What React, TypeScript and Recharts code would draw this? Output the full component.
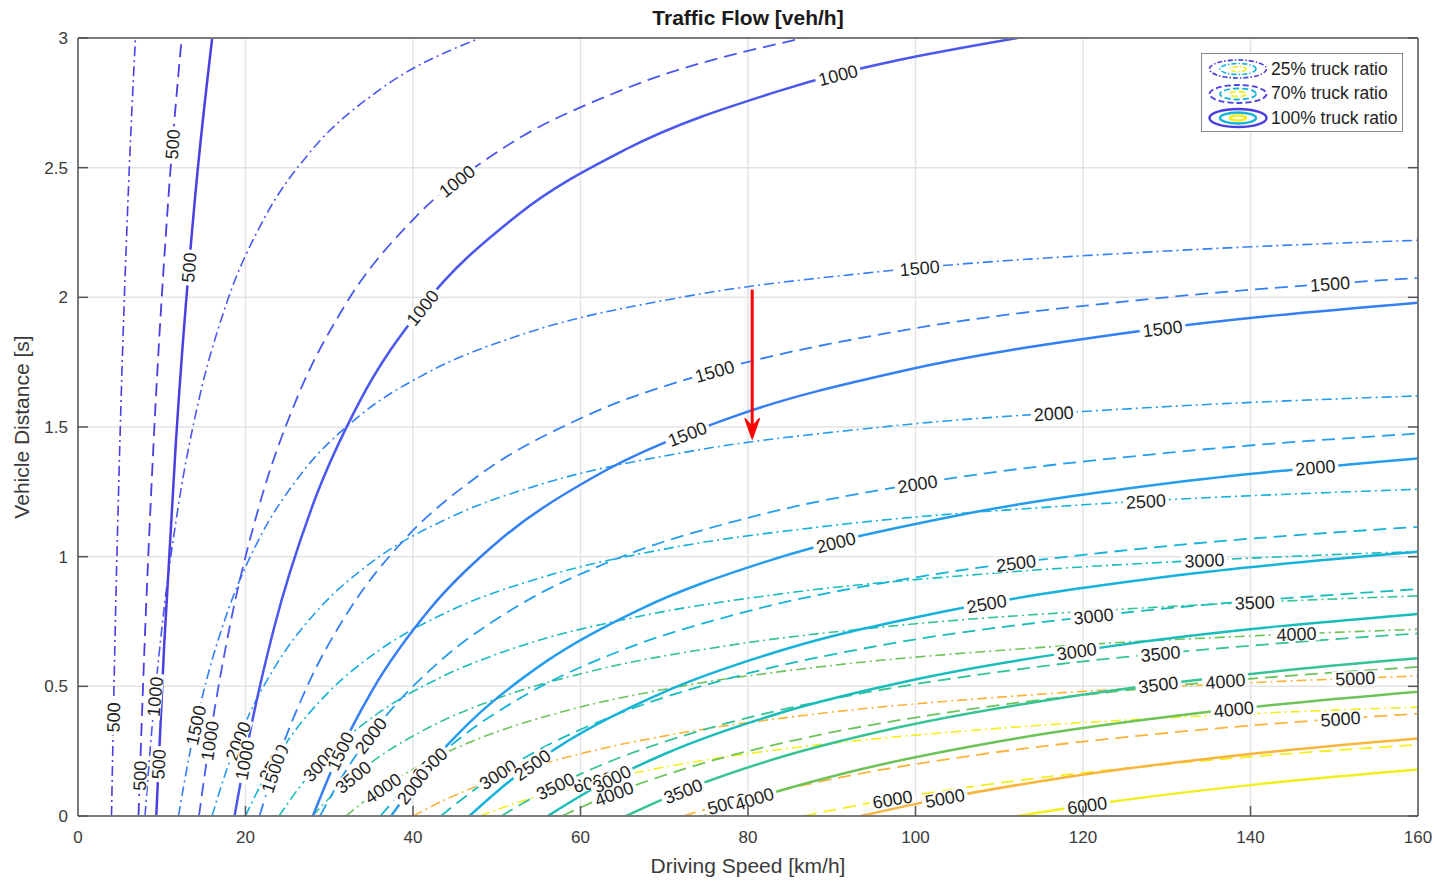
import React from 'react';
import { ComposedChart, Line, XAxis, YAxis, CartesianGrid, ReferenceLine } from 'recharts';

const FONT = '"Liberation Sans", Arial, Helvetica, sans-serif';

// flow levels drawn as contours [veh/h]
const LEVELS = [500, 1000, 1500, 2000, 2500, 3000, 3500, 4000, 5000, 6000];
const LEVEL_COLORS = [
  '#4a3fe0', '#4a58ef', '#357ff5', '#249ded', '#15b2d9',
  '#18bcbb', '#36c397', '#6dc35a', '#f9b43c', '#f3ee1e',
];

const SPEED_TICKS = [0, 20, 40, 60, 80, 100, 120, 140, 160];
const DIST_TICKS = [0, 0.5, 1, 1.5, 2, 2.5, 3];

// [driving speed km/h, vehicle distance s] along each contour, one per level
const TRUCK_25 = [
  [[4, 0], [4.4, 0.655], [5, 1.44], [6, 2.4], [6.857, 3]],
  [[8, 0], [8.8, 0.327], [10, 0.72], [12, 1.2], [14.4, 1.6], [17.6, 1.964], [22.4, 2.314], [28, 2.571], [36, 2.8], [48, 3]],
  [[12, 0], [13.2, 0.218], [15, 0.48], [18, 0.8], [21.6, 1.067], [26.4, 1.309], [33.6, 1.543], [42, 1.714], [54, 1.867], [72, 2.0], [96, 2.1], [132, 2.182], [160, 2.22]],
  [[16, 0], [17.6, 0.164], [20, 0.36], [24, 0.6], [28.8, 0.8], [35.2, 0.982], [44.8, 1.157], [56, 1.286], [72, 1.4], [96, 1.5], [128, 1.575], [160, 1.62]],
  [[20, 0], [22, 0.131], [25, 0.288], [30, 0.48], [36, 0.64], [44, 0.785], [56, 0.926], [70, 1.029], [90, 1.12], [120, 1.2], [160, 1.26]],
  [[24, 0], [26.4, 0.109], [30, 0.24], [36, 0.4], [43.2, 0.533], [52.8, 0.655], [67.2, 0.771], [84, 0.857], [108, 0.933], [144, 1.0], [160, 1.02]],
  [[28, 0], [30.8, 0.094], [35, 0.206], [42, 0.343], [50.4, 0.457], [61.6, 0.561], [78.4, 0.661], [98, 0.735], [126, 0.8], [160, 0.849]],
  [[32, 0], [35.2, 0.082], [40, 0.18], [48, 0.3], [57.6, 0.4], [70.4, 0.491], [89.6, 0.579], [112, 0.643], [144, 0.7], [160, 0.72]],
  [[40, 0], [44, 0.065], [50, 0.144], [60, 0.24], [72, 0.32], [88, 0.393], [112, 0.463], [140, 0.514], [160, 0.54]],
  [[48, 0], [52.8, 0.055], [60, 0.12], [72, 0.2], [86.4, 0.267], [105.6, 0.327], [134.4, 0.386], [160, 0.42]],
];

const TRUCK_70 = [
  [[7.222, 0], [7.944, 0.655], [9.028, 1.44], [10.833, 2.4], [12.381, 3]],
  [[14.444, 0], [15.889, 0.327], [18.056, 0.72], [21.667, 1.2], [26, 1.6], [31.778, 1.964], [40.444, 2.314], [50.556, 2.571], [65, 2.8], [86.667, 3]],
  [[21.667, 0], [23.833, 0.218], [27.083, 0.48], [32.5, 0.8], [39, 1.067], [47.667, 1.309], [60.667, 1.543], [75.833, 1.714], [97.5, 1.867], [130, 2.0], [160, 2.075]],
  [[28.889, 0], [31.778, 0.164], [36.111, 0.36], [43.333, 0.6], [52, 0.8], [63.556, 0.982], [80.889, 1.157], [101.11, 1.286], [130, 1.4], [160, 1.475]],
  [[36.111, 0], [39.722, 0.131], [45.139, 0.288], [54.167, 0.48], [65, 0.64], [79.444, 0.785], [101.11, 0.926], [126.39, 1.029], [160, 1.115]],
  [[43.333, 0], [47.667, 0.109], [54.167, 0.24], [65, 0.4], [78, 0.533], [95.333, 0.655], [121.33, 0.771], [160, 0.875]],
  [[50.556, 0], [55.611, 0.094], [63.194, 0.206], [75.833, 0.343], [91, 0.457], [111.22, 0.561], [141.56, 0.661], [160, 0.704]],
  [[57.778, 0], [63.556, 0.082], [72.222, 0.18], [86.667, 0.3], [104, 0.4], [127.11, 0.491], [160, 0.575]],
  [[72.222, 0], [79.444, 0.065], [90.278, 0.144], [108.33, 0.24], [130, 0.32], [160, 0.395]],
  [[86.667, 0], [95.333, 0.055], [108.33, 0.12], [130, 0.2], [160, 0.275]],
];

const TRUCK_100 = [
  [[9.347, 0], [10.282, 0.655], [11.684, 1.44], [14.021, 2.4], [16.024, 3]],
  [[18.694, 0], [20.564, 0.327], [23.368, 0.72], [28.042, 1.2], [33.65, 1.6], [41.128, 1.964], [52.344, 2.314], [65.43, 2.571], [84.125, 2.8], [112.17, 3]],
  [[28.042, 0], [30.846, 0.218], [35.052, 0.48], [42.063, 0.8], [50.475, 1.067], [61.692, 1.309], [78.517, 1.543], [98.146, 1.714], [126.19, 1.867], [160, 1.979]],
  [[37.389, 0], [41.128, 0.164], [46.736, 0.36], [56.083, 0.6], [67.3, 0.8], [82.256, 0.982], [104.69, 1.157], [130.86, 1.286], [160, 1.379]],
  [[46.736, 0], [51.41, 0.131], [58.42, 0.288], [70.104, 0.48], [84.125, 0.64], [102.82, 0.785], [130.86, 0.926], [160, 1.019]],
  [[56.083, 0], [61.692, 0.109], [70.104, 0.24], [84.125, 0.4], [100.95, 0.533], [123.38, 0.655], [160, 0.779]],
  [[65.431, 0], [71.974, 0.094], [81.789, 0.206], [98.146, 0.343], [117.78, 0.457], [143.95, 0.561], [160, 0.608]],
  [[74.778, 0], [82.256, 0.082], [93.472, 0.18], [112.17, 0.3], [134.6, 0.4], [160, 0.479]],
  [[93.472, 0], [102.82, 0.065], [116.84, 0.144], [140.21, 0.24], [160, 0.299]],
  [[112.17, 0], [123.38, 0.055], [140.21, 0.12], [160, 0.179]],
];

// inline contour labels: [level index, speed1, dist1, speed2, dist2] (two points on the curve)
const LABELS_25 = [
  [0, 4.174, 0.3, 4.273, 0.46], [1, 9.0, 0.4, 9.351, 0.52], [2, 13.649, 0.29, 14.472, 0.41],
  [3, 18.344, 0.23, 19.862, 0.35], [4, 22.326, 0.15, 24.407, 0.26], [5, 27.429, 0.15, 30.316, 0.25],
  [6, 31.352, 0.11, 34.343, 0.19], [7, 34.909, 0.075, 37.895, 0.14], [9, 59, 0.112, 64, 0.15],
  [2, 98, 2.106, 103, 2.12], [3, 114, 1.547, 119, 1.558], [4, 125, 1.2096, 130, 1.2185],
  [5, 132, 0.9818, 137, 0.9898], [6, 138, 0.8199, 143, 0.8272], [7, 143, 0.6986, 148, 0.7054],
  [8, 150, 0.528, 155, 0.5342],
];

const LABELS_70 = [
  [0, 11.064, 2.5, 11.504, 2.68], [0, 7.314, 0.09, 7.45, 0.22], [1, 43, 2.391, 47.5, 2.505],
  [1, 15.43, 0.23, 16.0, 0.35], [2, 147, 2.0463, 152, 2.0579], [2, 73, 1.6877, 79, 1.7418],
  [2, 22.707, 0.11, 23.853, 0.22], [3, 97.5, 1.2667, 103, 1.2951], [3, 33.548, 0.25, 36.364, 0.37],
  [4, 109.5, 0.9651, 114.5, 0.9859], [4, 40.31, 0.15, 43.697, 0.25], [5, 118.5, 0.7612, 124, 0.7806],
  [5, 47.706, 0.11, 52.525, 0.21], [6, 126.5, 0.6175, 132, 0.6347], [6, 55, 0.0831, 59, 0.1472],
  [7, 134, 0.5119, 140, 0.5286], [7, 61.5, 0.0545, 66.5, 0.118], [8, 148, 0.3686, 153.5, 0.3812],
  [8, 75, 0.0267, 80, 0.07], [9, 94.5, 0.0497, 100, 0.08],
];

const LABELS_100 = [
  [0, 13.017, 2.03, 13.46, 2.2], [0, 9.519, 0.13, 9.711, 0.27], [1, 39.128, 1.88, 43.141, 2.04],
  [1, 87, 2.8264, 94.5, 2.8878], [1, 19.507, 0.15, 20.271, 0.28], [2, 126, 1.8659, 133, 1.894],
  [2, 69.5, 1.4317, 76, 1.5145], [2, 30.452, 0.19, 32.201, 0.31], [3, 144.5, 1.3343, 151, 1.3543],
  [3, 87, 1.0264, 94, 1.084], [3, 38.678, 0.06, 41.288, 0.17], [4, 105.5, 0.8021, 111.5, 0.8364],
  [4, 52, 0.1458, 56.5, 0.2488], [5, 116, 0.6198, 122.5, 0.6506], [5, 61.5, 0.1057, 66, 0.1803],
  [6, 126, 0.4945, 132, 0.5188], [6, 69.5, 0.0603, 75, 0.1313], [7, 135, 0.4015, 141, 0.4227],
  [7, 78.5, 0.0427, 83, 0.0892], [8, 100.5, 0.0503, 106.5, 0.0881], [9, 117.5, 0.0272, 123.5, 0.0551],
];

// red arrow: from 1500 (25%) down to 2000 (25%) at 80 km/h
const ARROW = [[80.5, 2.03], [80.5, 1.455]];

const SERIES = [
  { name: '25% truck ratio', curves: TRUCK_25, labels: LABELS_25, dash: '10 4 2 4', iconDash: '5 2 1.5 2', width: 1.6 },
  { name: '70% truck ratio', curves: TRUCK_70, labels: LABELS_70, dash: '13 7', iconDash: '6 3', width: 1.8 },
  { name: '100% truck ratio', curves: TRUCK_100, labels: LABELS_100, dash: undefined, iconDash: undefined, width: 2.5 },
];

const LABEL_SIZE = 18;

const ContourLabel = (props: any) => {
  const { x1, y1, x2, y2, text } = props;
  if (x1 == null) return null;
  const cx = (x1 + x2) / 2;
  const cy = (y1 + y2) / 2;
  let a = (Math.atan2(y2 - y1, x2 - x1) * 180) / Math.PI;
  if (a > 90) a -= 180;
  if (a < -90) a += 180;
  const w = text.length * LABEL_SIZE * 0.556 + 6;
  return (
    <g transform={`translate(${cx},${cy}) rotate(${a})`}>
      <rect x={-w / 2} y={-LABEL_SIZE * 0.4} width={w} height={LABEL_SIZE * 0.8} fill="#fff" />
      <text x={0} y={0} dy="0.36em" textAnchor="middle" fontSize={LABEL_SIZE} fill="#1e1e1e" fontFamily={FONT}>
        {text}
      </text>
    </g>
  );
};

const ArrowShape = (props: any) => {
  const { x1, y1, x2, y2 } = props;
  if (x1 == null) return null;
  return (
    <g>
      <line x1={x1} y1={y1} x2={x2} y2={y2 - 3} stroke="#ff0000" strokeWidth={3} />
      <polygon points={`${x2 - 7},${y2 - 20} ${x2},${y2 - 12} ${x2 + 7},${y2 - 20} ${x2},${y2}`} fill="#ff0000" stroke="#ff0000" strokeWidth={1.5} strokeLinejoin="round" />
    </g>
  );
};

const LegendIcon = ({ dash, width }: { dash?: string; width: number }) => (
  <svg width={62} height={22} style={{ display: 'block' }}>
    <ellipse cx={31} cy={11} rx={28.5} ry={9} fill="none" stroke={LEVEL_COLORS[0]} strokeWidth={width} strokeDasharray={dash} />
    <ellipse cx={31} cy={11} rx={18} ry={5.5} fill="none" stroke={LEVEL_COLORS[4]} strokeWidth={width} strokeDasharray={dash} />
    <ellipse cx={31} cy={11} rx={8} ry={2.5} fill="none" stroke={LEVEL_COLORS[9]} strokeWidth={width} strokeDasharray={dash} />
  </svg>
);

export default function App() {
  return (
    <div style={{ position: 'absolute', left: 0, top: 0, width: 1435, height: 887, background: '#fff' }}>
      <ComposedChart width={1435} height={887} margin={{ top: 0, right: 0, bottom: 0, left: 0 }} style={{ fontFamily: FONT }}>
        <CartesianGrid stroke="#e3e3e3" strokeWidth={1.5} />
        <XAxis
          dataKey="x"
          type="number"
          domain={[0, 160]}
          ticks={SPEED_TICKS}
          allowDataOverflow
          height={71}
          tickSize={-10}
          tickMargin={25}
          axisLine={{ stroke: '#7a7a7a', strokeWidth: 2 }}
          tickLine={{ stroke: '#555', strokeWidth: 1.5 }}
          tick={{ fill: '#3a3a3a', fontSize: 17 }}
          label={{
            content: (p: any) => (
              <text x={p.viewBox.x + p.viewBox.width / 2} y={p.viewBox.y + 57} textAnchor="middle" fontSize={21} fill="#3a3a3a" fontFamily={FONT}>
                Driving Speed [km/h]
              </text>
            ),
          }}
        />
        <XAxis
          xAxisId="top"
          orientation="top"
          type="number"
          domain={[0, 160]}
          ticks={SPEED_TICKS}
          allowDataOverflow
          height={38}
          tickSize={-10}
          tickFormatter={() => ''}
          axisLine={{ stroke: '#7a7a7a', strokeWidth: 2 }}
          tickLine={{ stroke: '#555', strokeWidth: 1.5 }}
          label={{
            content: (p: any) => (
              <text x={p.viewBox.x + p.viewBox.width / 2} y={25} textAnchor="middle" fontSize={21} fontWeight="bold" fill="#1a1a1a" fontFamily={FONT}>
                Traffic Flow [veh/h]
              </text>
            ),
          }}
        />
        <YAxis
          type="number"
          domain={[0, 3]}
          ticks={DIST_TICKS}
          allowDataOverflow
          width={78}
          tickSize={-10}
          tickMargin={20}
          axisLine={{ stroke: '#7a7a7a', strokeWidth: 2 }}
          tickLine={{ stroke: '#555', strokeWidth: 1.5 }}
          tick={{ fill: '#3a3a3a', fontSize: 17 }}
          label={{
            content: (p: any) => {
              const cy = p.viewBox.y + p.viewBox.height / 2;
              return (
                <text x={29} y={cy} transform={`rotate(-90, 29, ${cy})`} textAnchor="middle" fontSize={21} fill="#3a3a3a" fontFamily={FONT}>
                  Vehicle Distance [s]
                </text>
              );
            },
          }}
        />
        <YAxis
          yAxisId="right"
          orientation="right"
          type="number"
          domain={[0, 3]}
          ticks={DIST_TICKS}
          allowDataOverflow
          width={17}
          tickSize={-10}
          tickFormatter={() => ''}
          axisLine={{ stroke: '#7a7a7a', strokeWidth: 2 }}
          tickLine={{ stroke: '#555', strokeWidth: 1.5 }}
        />
        {SERIES.map((s, si) =>
          s.curves.map((curve, li) => (
            <Line
              key={`c-${si}-${li}`}
              data={curve.map(([x, y]) => ({ x, y }))}
              dataKey="y"
              name={`${s.name} ${LEVELS[li]}`}
              type="monotone"
              stroke={LEVEL_COLORS[li]}
              strokeWidth={s.width}
              strokeDasharray={s.dash}
              dot={false}
              activeDot={false}
              isAnimationActive={false}
            />
          ))
        )}
        {SERIES.map((s, si) =>
          s.labels.map(([li, xa, ya, xb, yb], k) => (
            <ReferenceLine
              key={`l-${si}-${k}`}
              segment={[{ x: xa, y: ya }, { x: xb, y: yb }]}
              shape={(p: any) => <ContourLabel {...p} text={String(LEVELS[li])} />}
            />
          ))
        )}
        <ReferenceLine
          segment={ARROW.map(([x, y]) => ({ x, y }))}
          shape={(p: any) => <ArrowShape {...p} />}
        />
      </ComposedChart>
      <div
        style={{
          position: 'absolute',
          left: 1201,
          top: 53,
          width: 202,
          height: 79,
          boxSizing: 'border-box',
          border: '1.5px solid #8a8a8a',
          background: '#fff',
          fontFamily: FONT,
          fontSize: 17.5,
          color: '#1e1e1e',
          paddingTop: 3,
        }}
      >
        {SERIES.map((s) => (
          <div key={s.name} style={{ display: 'flex', alignItems: 'center', height: 24.5, paddingLeft: 5 }}>
            <LegendIcon dash={s.iconDash} width={s.width} />
            <span style={{ marginLeft: 2, whiteSpace: 'nowrap' }}>{s.name}</span>
          </div>
        ))}
      </div>
    </div>
  );
}
